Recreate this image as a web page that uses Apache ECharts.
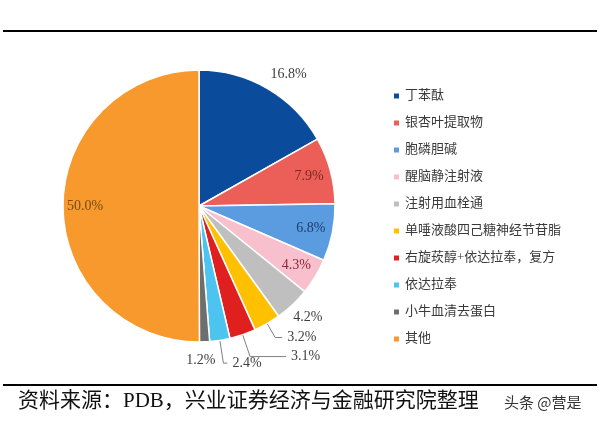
<!DOCTYPE html>
<html><head><meta charset="utf-8">
<script src="https://cdn.jsdelivr.net/npm/echarts@6/dist/echarts.min.js"></script>
<style>html,body{margin:0;padding:0;background:#fff}#c{width:600px;height:422px}</style>
</head><body><div id="c"></div>
<script>
const categories = ['丁苯酞','银杏叶提取物','胞磷胆碱','醒脑静注射液','注射用血栓通','单唾液酸四己糖神经节苷脂','右旋莰醇+依达拉奉，复方','依达拉奉','小牛血清去蛋白','其他'];
const shares = [16.8, 7.9, 6.8, 4.3, 4.2, 3.2, 3.1, 2.4, 1.2, 50.0];
const colors = ['#0a4c9b','#ec5f58','#5b9be0','#f8c0cc','#bfbfbf','#ffc000','#e0201f','#4dc3f0','#6e6e6e','#f7992c'];
const insideIdx = [1, 2, 3, 9];
const insideLabelColors = {1:'#7a2a22', 2:'#1f3d6e', 3:'#8a2a3a', 9:'#7a4a12'};
const sourceText = '资料来源：PDB，兴业证券经济与金融研究院整理';
const watermark = '头条 @营是';

const serif = '"Liberation Serif","Noto Sans CJK SC",serif';
const center = [199, 206];
const R = 136;

// outside label settings per index: [length, length2, showLine]
const outsideCfg = {0:[16,0,false],4:[17,0,false],5:[16,7,true],6:[23,36,true],7:[23,4,true],8:[18,0,false]};
const nudges = {0:[-10,0],4:[-16,0],8:[-24,0]};

const mainData = categories.map((n,i)=>{
  const d = {name:n, value:shares[i], itemStyle:{color:colors[i]}};
  if (outsideCfg[i]) {
    const c = outsideCfg[i];
    d.label = {show:true, position:'outside'};
    d.labelLine = {show:c[2], length:c[0], length2:c[1], lineStyle:{color:'#808080', width:1}};
  } else {
    d.label = {show:false};
    d.labelLine = {show:false};
  }
  return d;
});
const overlayData = categories.map((n,i)=>({
  name:n, value:shares[i],
  itemStyle:{color:'rgba(0,0,0,0)', borderWidth:0},
  label: insideIdx.includes(i) ? {show:true, color:insideLabelColors[i]} : {show:false}
}));

const chart = echarts.init(document.getElementById('c'), null, {renderer:'canvas'});
chart.setOption({
  animation:false,
  backgroundColor:'#fff',
  legend:{
    orient:'vertical', left:387, top:84,
    itemWidth:7, itemHeight:7, itemGap:13, icon:'rect',
    data:categories,
    textStyle:{fontFamily:serif, fontSize:13, lineHeight:14, color:'#3a3a3a'},
    selectedMode:false
  },
  series:[
    {
      type:'pie', center:center, radius:[0,R], startAngle:90, clockwise:true,
      avoidLabelOverlap:false, silent:true,
      itemStyle:{borderColor:'#fff', borderWidth:1.5},
      label:{fontFamily:serif, fontSize:14, color:'#404040',
        formatter:p=>p.value.toFixed(1)+'%'},
      emphasis:{disabled:true},
      labelLayout:function(p){
        const n = nudges[p.dataIndex];
        return n ? {dx:n[0], dy:n[1]} : {};
      },
      data:mainData
    },
    {
      type:'pie', center:center, radius:[86,R], startAngle:90, clockwise:true,
      avoidLabelOverlap:false, silent:true,
      label:{position:'inside', fontFamily:serif, fontSize:14,
        formatter:p=>p.value.toFixed(1)+'%'},
      labelLine:{show:false},
      emphasis:{disabled:true},
      data:overlayData
    }
  ],
  graphic:[
    {type:'line', shape:{x1:3,y1:31,x2:597,y2:31}, style:{stroke:'#000', lineWidth:2}},
    {type:'line', shape:{x1:3,y1:385,x2:597,y2:385}, style:{stroke:'#000', lineWidth:2}},
    {type:'text', left:18, top:391, style:{text:sourceText, font:'21px '+serif, fill:'#111'}},
    {type:'text', left:504, top:395, style:{text:watermark, font:'15px "Noto Sans CJK SC",sans-serif', fill:'#333'}}
  ]
});
</script>
</body></html>
